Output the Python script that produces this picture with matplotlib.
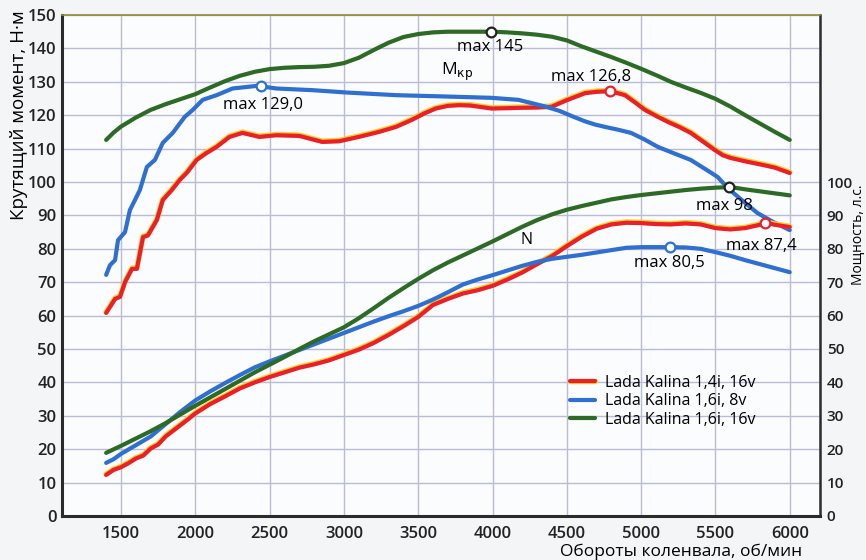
import numpy as np
import matplotlib.pyplot as plt
import matplotlib.patheffects as pe

# Внешняя скоростная характеристика Lada Kalina

# момент, Н·м
rpm_red_m = [1400, 1460, 1493, 1527, 1574, 1607, 1648, 1681, 1741, 1781, 1840, 1895, 1942, 2009, 2076,
             2143, 2230, 2318, 2431, 2545, 2700, 2854, 2968, 3100, 3236, 3350, 3457, 3540, 3618, 3700,
             3772, 3850, 3930, 3993, 4100, 4174, 4300, 4396, 4500, 4623, 4700, 4791, 4891, 4960, 5025,
             5100, 5180, 5260, 5334, 5420, 5495, 5550, 5602, 5700, 5830, 5900, 6000]
torque_red = [60.8, 65.0, 65.6, 70.0, 74.0, 74.0, 83.5, 84.0, 88.6, 94.6, 97.5, 100.6, 102.7, 106.6, 108.7,
              110.5, 113.5, 114.7, 113.5, 114.0, 113.8, 112.0, 112.2, 113.5, 115.0, 116.5, 118.6, 120.5, 122.0, 122.8,
              123.0, 122.9, 122.4, 122.0, 122.1, 122.2, 122.3, 122.5, 124.5, 126.6, 127.0, 127.2, 126.0, 123.8, 121.6,
              119.8, 118.0, 116.4, 114.7, 112.0, 109.6, 108.0, 107.2, 106.2, 105.0, 104.3, 102.7]

rpm_blue_m = [1400, 1426, 1460, 1480, 1527, 1560, 1594, 1627, 1674, 1728, 1781, 1848, 1929, 1983, 2050,
              2143, 2251, 2418, 2545, 2787, 3015, 3350, 3685, 3993, 4174, 4355, 4450, 4530, 4620, 4690,
              4757, 4850, 4932, 5020, 5113, 5220, 5334, 5420, 5515, 5582, 5680, 5783, 5890, 6000]
torque_blue = [72.2, 75.1, 76.6, 82.6, 85.0, 91.6, 94.6, 97.6, 104.5, 106.6, 111.7, 114.7, 119.5, 121.6, 124.6,
               126.0, 128.0, 128.8, 128.0, 127.5, 126.8, 126.0, 125.6, 125.2, 124.6, 122.6, 121.3, 119.8, 118.2, 117.2,
               116.5, 115.6, 114.7, 112.8, 110.5, 108.6, 106.6, 104.2, 101.5, 98.2, 94.5, 90.7, 88.0, 85.6]

rpm_green_m = [1400, 1450, 1500, 1600, 1700, 1800, 1900, 2000, 2100, 2200, 2300, 2400, 2500, 2600, 2700,
               2800, 2900, 3000, 3100, 3200, 3300, 3400, 3500, 3600, 3700, 3800, 3900, 4000, 4100, 4200,
               4300, 4400, 4500, 4600, 4700, 4800, 4900, 5000, 5100, 5200, 5300, 5400, 5500, 5600, 5700,
               5800, 5900, 6000]
torque_green = [112.6, 114.8, 116.6, 119.3, 121.6, 123.3, 124.8, 126.3, 128.3, 130.2, 131.8, 133.0, 133.8, 134.2, 134.4,
                134.5, 134.8, 135.6, 137.2, 139.5, 141.7, 143.4, 144.3, 144.8, 145.0, 145.0, 145.0, 145.0, 144.8, 144.5,
                144.1, 143.5, 142.4, 140.6, 139.0, 137.4, 135.7, 133.9, 132.0, 130.0, 128.3, 126.7, 124.9, 122.6, 120.0,
                117.5, 115.0, 112.6]

# мощность, л.с.
rpm_red_n = [1400, 1450, 1500, 1550, 1600, 1650, 1700, 1750, 1800, 1850, 1900, 1950, 2000, 2100, 2200,
             2300, 2400, 2500, 2600, 2700, 2800, 2900, 3000, 3100, 3200, 3300, 3400, 3500, 3600, 3700,
             3800, 3900, 4000, 4100, 4200, 4300, 4400, 4500, 4600, 4700, 4800, 4900, 5000, 5100, 5200,
             5300, 5400, 5500, 5600, 5700, 5800, 5850, 5900, 6000]
power_red = [12.3, 13.8, 14.6, 15.8, 17.2, 18.1, 20.2, 21.4, 23.8, 25.5, 27.2, 28.9, 30.7, 33.5, 35.8,
             38.2, 40.0, 41.6, 43.0, 44.4, 45.4, 46.6, 48.2, 49.8, 51.8, 54.2, 56.8, 59.6, 63.2, 65.0,
             66.6, 67.6, 68.9, 70.8, 72.9, 75.4, 77.8, 80.8, 83.6, 86.0, 87.3, 87.8, 87.7, 87.4, 87.3,
             87.6, 87.3, 86.2, 85.8, 86.2, 87.2, 87.7, 87.2, 86.5]

rpm_blue_n = [1400, 1450, 1500, 1600, 1700, 1800, 1900, 2000, 2100, 2200, 2300, 2400, 2500, 2600, 2700,
              2800, 2900, 3000, 3100, 3200, 3300, 3400, 3500, 3600, 3700, 3800, 3900, 4000, 4100, 4200,
              4300, 4400, 4500, 4600, 4700, 4800, 4900, 5000, 5100, 5200, 5300, 5400, 5500, 5600, 5700,
              5800, 5900, 6000]
power_blue = [15.9, 17.0, 18.6, 21.2, 23.8, 27.5, 31.2, 34.6, 37.3, 39.8, 42.2, 44.5, 46.3, 48.0, 49.7,
              51.4, 53.1, 54.8, 56.5, 58.2, 59.8, 61.3, 62.9, 64.8, 67.0, 69.3, 70.8, 72.1, 73.5, 74.9,
              76.1, 77.0, 77.6, 78.2, 78.9, 79.6, 80.3, 80.5, 80.5, 80.5, 80.4, 80.0, 79.0, 77.9, 76.6,
              75.4, 74.2, 73.0]

rpm_green_n = [1400, 1500, 1600, 1700, 1800, 1900, 2000, 2100, 2200, 2300, 2400, 2500, 2600, 2700, 2800,
               2900, 3000, 3100, 3200, 3300, 3400, 3500, 3600, 3700, 3800, 3900, 4000, 4100, 4200, 4300,
               4400, 4500, 4600, 4700, 4800, 4900, 5000, 5100, 5200, 5300, 5400, 5500, 5600, 5700, 5800,
               5900, 6000]
power_green = [18.9, 21.0, 23.2, 25.4, 27.8, 30.4, 33.0, 35.5, 38.0, 40.5, 43.0, 45.3, 47.6, 50.0, 52.3,
               54.4, 56.5, 59.2, 62.2, 65.3, 68.2, 71.0, 73.6, 75.9, 78.0, 80.1, 82.2, 84.4, 86.6, 88.6,
               90.3, 91.7, 92.8, 93.8, 94.8, 95.5, 96.1, 96.6, 97.1, 97.6, 98.0, 98.3, 98.5, 97.8, 97.2,
               96.6, 96.0]

labels = ["Lada Kalina 1,4i, 16v", "Lada Kalina 1,6i, 8v", "Lada Kalina 1,6i, 16v"]
colors = ["#ea1f2b", "#2f6fd0", "#2c6a26"]

# максимумы: (об/мин, значение, подпись)
max_red_m = (4791, 127.2, "max 126,8")
max_blue_m = (2445, 128.8, "max 129,0")
max_green_m = (3987, 145.0, "max 145")
max_red_n = (5836, 87.6, "max 87,4")
max_blue_n = (5193, 80.5, "max 80,5")
max_green_n = (5589, 98.5, "max 98")

plt.rcParams['font.family'] = ['Open Sans', 'DejaVu Sans']

fig = plt.figure(figsize=(8.66, 5.6), dpi=100, facecolor="#f4f5f7")
ax = fig.add_axes([0.0716, 0.0786, 0.875, 0.8946])
ax.set_facecolor("#fbfcfd")

ax.set_xlim(1103, 6202)
ax.set_ylim(0, 150)
ax.set_xticks(np.arange(1500, 6001, 500))
ax.set_yticks(np.arange(0, 151, 10))
ax.grid(True, color="#b9bcd8", lw=1.0)
ax.set_axisbelow(True)

yellow_edge = [pe.Stroke(linewidth=3.8, foreground="#f2cf2a", offset=(0, 0.6)), pe.Normal()]
for (x, y), c, lab, i in zip([(rpm_red_m, torque_red), (rpm_blue_m, torque_blue), (rpm_green_m, torque_green)],
                             colors, labels, range(3)):
    ax.plot(x, y, color=c, lw=3, label=lab, solid_capstyle="round",
            path_effects=yellow_edge if i == 0 else None, zorder=3)
for (x, y), c, i in zip([(rpm_red_n, power_red), (rpm_blue_n, power_blue), (rpm_green_n, power_green)],
                        colors, range(3)):
    ax.plot(x, y, color=c, lw=3, solid_capstyle="round",
            path_effects=yellow_edge if i == 0 else None, zorder=3)

markers = [(max_red_m, colors[0]), (max_blue_m, colors[1]), (max_green_m, "#222222"),
           (max_red_n, colors[0]), (max_blue_n, colors[1]), (max_green_n, "#222222")]
for (mx, my, _), c in markers:
    ax.plot(mx, my, "o", ms=7, mfc="white", mec=c, mew=1.6, zorder=5)

fs = 12
ax.text(max_blue_m[0] + 10, max_blue_m[1] - 3.2, max_blue_m[2], ha="center", va="top", fontsize=fs)
ax.text(max_green_m[0], max_green_m[1] - 2.3, max_green_m[2], ha="center", va="top", fontsize=fs)
ax.text(max_red_m[0] - 130, max_red_m[1] + 1.8, max_red_m[2], ha="center", va="bottom", fontsize=fs)
ax.text(max_green_n[0] - 30, max_green_n[1] - 3.2, max_green_n[2], ha="center", va="top", fontsize=fs)
ax.text(max_red_n[0] - 30, max_red_n[1] - 4.3, max_red_n[2], ha="center", va="top", fontsize=fs)
ax.text(max_blue_n[0], max_blue_n[1] - 2.3, max_blue_n[2], ha="center", va="top", fontsize=fs)
ax.text(3760, 133, "M$_{\\mathrm{кр}}$", ha="center", va="center", fontsize=12.5)
ax.text(4230, 82.5, "N", ha="center", va="center", fontsize=11.5)

for s in ["left", "bottom"]:
    ax.spines[s].set_linewidth(2.2)
    ax.spines[s].set_color("#2b2b2b")
ax.spines["right"].set_linewidth(1.8)
ax.spines["right"].set_color("#2b2b2b")
ax.spines["top"].set_linewidth(1.2)
ax.spines["top"].set_color("#8f8a3a")

ax.tick_params(axis="x", length=0, labelsize=12, pad=7)
ax.tick_params(axis="y", length=0, labelsize=12, pad=4)
for t in ax.get_xticklabels() + ax.get_yticklabels():
    t.set_fontweight("semibold")
    t.set_color("#222222")

ax2 = ax.twinx()
ax2.set_ylim(0, 150)
ax2.set_yticks(np.arange(0, 101, 10))
ax2.tick_params(axis="y", length=0, labelsize=11, pad=5)
for t in ax2.get_yticklabels():
    t.set_fontweight("semibold")
    t.set_color("#222222")
for s in ax2.spines.values():
    s.set_visible(False)

fig.text(0.022, 0.982, "Крутящий момент, Н·м", rotation=90, ha="center", va="top", fontsize=13.5)
fig.text(0.991, 0.58, "Мощность, л.с.", rotation=90, ha="center", va="center", fontsize=10)
fig.text(0.787, 0.0, "Обороты коленвала, об/мин", ha="center", va="bottom", fontsize=12.5)

leg = ax.legend(loc="upper left", bbox_to_anchor=(0.652, 0.31), frameon=False, fontsize=11.5,
                handlelength=1.55, handletextpad=0.6, labelspacing=0.15)

fig.savefig("out.png", dpi=100, facecolor=fig.get_facecolor())
